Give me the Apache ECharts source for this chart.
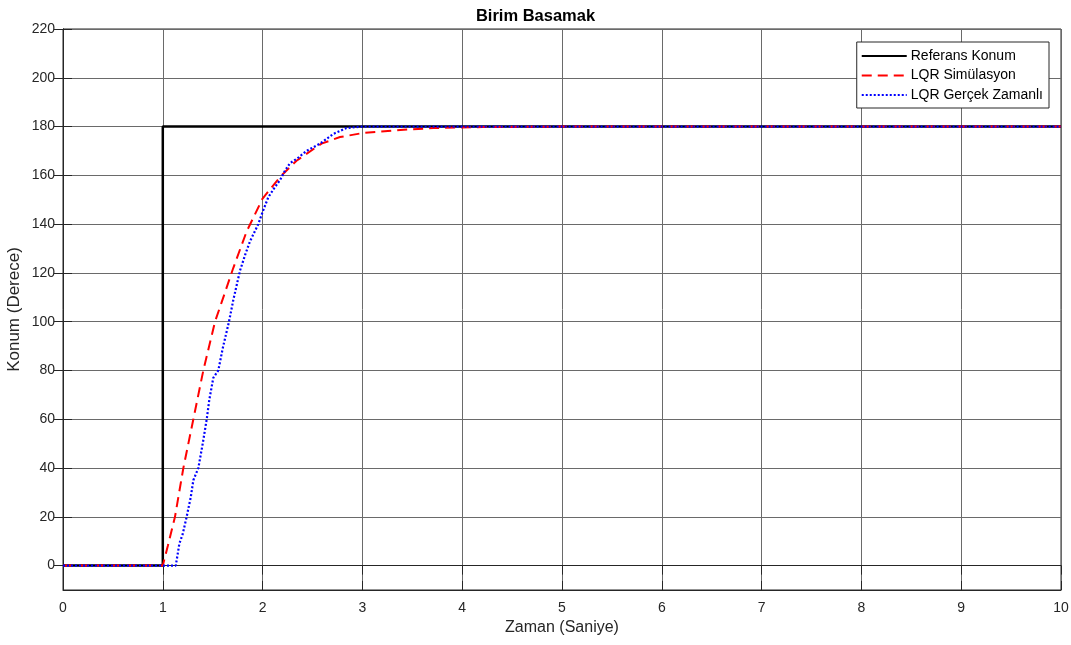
<!DOCTYPE html>
<html><head><meta charset="utf-8">
<script src="https://cdn.jsdelivr.net/npm/echarts@6/dist/echarts.min.js"></script>
<style>html,body{margin:0;padding:0;background:#fff}#c{width:1071px;height:645px}</style>
</head><body><div id="c"></div>
<script>
const titleText = 'Birim Basamak';
const xName = 'Zaman (Saniye)';
const yName = 'Konum (Derece)';
const seriesNames = ['Referans Konum', 'LQR Simülasyon', 'LQR Gerçek Zamanlı'];
const yTicks = [0,20,40,60,80,100,120,140,160,180,200,220];
const xTicks = [0,1,2,3,4,5,6,7,8,9,10];

const referans = [[0,0],[1,0],[1,180],[10,180]];
const simulasyon = [[0,0],[1.0,0],[1.05,8],[1.122,20],[1.206,40],[1.306,60],[1.406,80],[1.523,100],[1.59,108],[1.706,122],[1.84,137],[2.0,150.5],[2.174,159.3],[2.34,166],[2.59,173],[2.776,175.7],[3.01,177.4],[3.38,178.6],[3.71,179.4],[4.2,179.8],[5,180],[10,180]];
const gercek = [[0,0],[1.13,0],[1.15,5],[1.166,9],[1.2,13],[1.239,20],[1.28,28],[1.306,35],[1.356,40],[1.40,50],[1.44,60],[1.466,68],[1.506,77],[1.556,80],[1.60,89],[1.663,100],[1.707,109],[1.774,121],[1.83,128],[1.874,133],[1.957,140],[2.0,145],[2.057,151],[2.12,155],[2.174,158],[2.225,162],[2.275,165],[2.35,167],[2.44,170],[2.575,173],[2.71,177],[2.84,179.4],[3.0,180],[10,180]];

const FONT = "'Liberation Sans', Arial, Helvetica, sans-serif";
const chart = echarts.init(document.getElementById('c'), null, {renderer:'canvas'});
const GRIDC = '#6a6a6a';
chart.setOption({
  animation:false,
  backgroundColor:'#ffffff',
  title:{text:titleText, left:'center', top:3, textStyle:{fontFamily:FONT, fontSize:16.5, fontWeight:'bold', color:'#000'}},
  grid:{left:63, right:10, top:29, bottom:55, show:true, borderColor:'#262626', borderWidth:1, containLabel:false, outerBoundsMode:'none'},
  legend:{
    orient:'vertical', right:22, top:42,
    backgroundColor:'#fff', borderColor:'#262626', borderWidth:1, borderRadius:0,
    padding:[7,6,6,4], itemGap:5.5, itemWidth:45, itemHeight:14,
    itemStyle:{opacity:0},
    textStyle:{fontFamily:FONT, fontSize:14, color:'#000', padding:[0,0,0,-1]},
    data:seriesNames
  },
  xAxis:[{
    type:'value', min:0, max:10, interval:1,
    name:xName, nameLocation:'middle', nameGap:30,
    nameTextStyle:{fontFamily:FONT, fontSize:16, color:'#262626'},
    axisLabel:{fontFamily:FONT, fontSize:14, color:'#262626', margin:11},
    axisLine:{show:true, onZero:false, lineStyle:{color:'#262626', width:1}},
    axisTick:{show:true, inside:true, length:9, lineStyle:{color:'#262626'}},
    splitLine:{show:true, lineStyle:{color:GRIDC, width:1}}
  },{
    type:'value', min:0, max:10, interval:1, position:'top',
    axisLine:{show:true, lineStyle:{color:'#262626'}},
    axisTick:{show:true, inside:true, length:9, lineStyle:{color:'#262626'}},
    axisLabel:{show:false}, splitLine:{show:false}
  }],
  yAxis:[{
    type:'value', min:-10, max:220,
    name:yName, nameLocation:'middle', nameGap:40, nameMoveOverlap:false,
    nameTextStyle:{fontFamily:FONT, fontSize:17, color:'#262626'},
    axisLabel:{fontFamily:FONT, fontSize:14, color:'#262626', margin:8, customValues:yTicks},
    axisLine:{show:true, onZero:false, lineStyle:{color:'#262626', width:1}},
    axisTick:{show:true, inside:true, length:9, lineStyle:{color:'#262626'}, customValues:yTicks},
    splitLine:{show:true, lineStyle:{color:GRIDC, width:1}}
  },{
    type:'value', min:-10, max:220, position:'right',
    axisLine:{show:true, lineStyle:{color:'#262626'}},
    axisTick:{show:true, inside:true, length:9, lineStyle:{color:'#262626'}, customValues:yTicks},
    axisLabel:{show:false}, splitLine:{show:false}
  }],
  series:[
    {name:seriesNames[0], type:'line', data:referans, symbol:'none', lineStyle:{color:'#000', width:2.5}, itemStyle:{color:'#000'}, z:2},
    {name:seriesNames[1], type:'line', data:simulasyon, symbol:'none', lineStyle:{color:'#ff0000', width:2, type:[10,6]}, itemStyle:{color:'#ff0000'}, z:3},
    {name:seriesNames[2], type:'line', data:gercek, symbol:'none', lineStyle:{color:'#0000ff', width:2.2, type:[2,2]}, itemStyle:{color:'#0000ff'}, z:4}
  ]
});
</script></body></html>
